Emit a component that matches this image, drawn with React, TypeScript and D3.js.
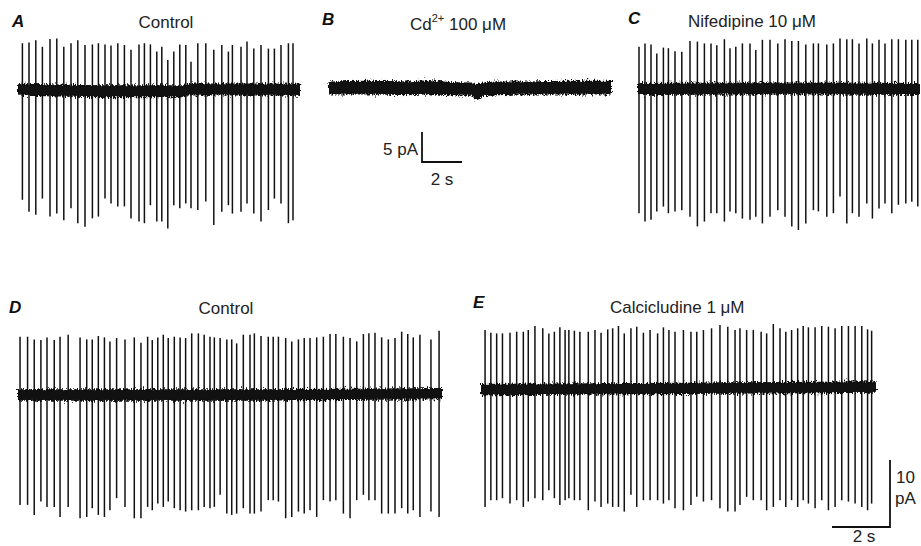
import React from 'react';
import * as d3 from 'd3';

// ---------- Panel A: Control (times in s, currents in pA) ----------
const A_SPIKE_T = [0.22,0.55,0.89,1.22,1.6,1.94,2.29,2.65,2.99,3.35,3.72,4.02,4.35,4.65,4.99,5.32,5.65,6.05,6.32,6.62,6.94,7.19,7.49,7.79,8.09,8.39,8.65,8.99,9.39,9.79,10.19,10.52,10.72,11.15,11.45,11.79,12.15,12.52,12.82,13.15,13.52,13.75];
const A_SPIKE_PEAK = [7.8,7.9,8.3,7.2,8.5,8.6,7.2,7.8,8.3,7.5,7.6,7.8,7.6,7.4,7.8,7.5,6.7,7.6,7.8,7.6,6.4,7.2,5.0,6.4,7.6,7.5,4.7,7.8,7.8,6.7,7.5,6.4,7.5,7.2,8.1,6.9,7.5,6.9,6.9,7.5,7.8,7.8];
const A_SPIKE_TROUGH = [-18.3,-20.3,-20.8,-18.1,-21.1,-20.6,-21.7,-19.7,-22.2,-22.8,-21.4,-21.1,-18.1,-18.9,-19.4,-19.4,-21.4,-21.9,-22.2,-19.2,-21.9,-21.9,-23.1,-19.2,-19.7,-18.9,-19.7,-20.0,-18.6,-22.5,-20.3,-19.2,-20.6,-20.3,-18.9,-20.6,-21.9,-20.0,-18.1,-18.9,-22.2,-21.7];
const A_BASE_T = [0, 1.5, 5, 8.2, 8.6, 14.1];
const A_BASE_PA = [0.1, -0.05, -0.2, -0.2, 0.1, 0.05];

// ---------- Panel B: Cd2+ 100 uM (noise envelope only) ----------
const B_ENV_T = [0, 2, 4, 5, 6, 7.1, 7.4, 7.7, 8.5, 10, 12, 14.1];
const B_ENV_UP = [1.1, 1.2, 1.1, 1.3, 1.0, 0.9, 0.6, 0.9, 1.1, 1.1, 1.2, 1.2];
const B_ENV_LO = [-1.1, -1.1, -1.2, -1.1, -1.2, -1.3, -2.0, -1.4, -1.2, -1.1, -1.1, -1.1];

// ---------- Panel C: Nifedipine 10 uM ----------
const C_SPIKE_T = [0.05,0.35,0.65,0.94,1.27,1.52,1.85,2.19,2.6,2.97,3.32,3.65,3.94,4.32,4.6,4.89,5.22,5.6,5.89,6.22,6.6,6.99,7.35,7.69,8.02,8.39,8.77,9.02,9.44,9.77,10.1,10.44,10.72,11.05,11.44,11.72,12.05,12.35,12.69,13.02,13.39,13.69,13.99];
const C_SPIKE_PEAK = [7.05,7.6,7.4,5.9,6.9,6.8,6.3,6.2,8.0,7.9,7.6,7.6,7.3,8.3,6.8,7.05,7.6,7.6,6.5,8.2,8.2,7.6,8.3,8.0,8.0,7.4,7.6,7.6,7.4,7.6,8.4,8.3,8.3,7.6,8.4,7.6,8.2,7.6,8.3,8.3,8.2,8.2,8.2];
const C_SPIKE_TROUGH = [-20.7,-22.1,-21.8,-20.4,-19.6,-20.7,-20.4,-20.2,-21.3,-22.9,-22.1,-20.7,-20.7,-22.1,-20.4,-20.7,-21.6,-21.8,-21.3,-22.4,-21.3,-20.2,-21.3,-22.9,-23.5,-22.4,-20.2,-20.4,-21.3,-20.7,-17.9,-22.4,-20.7,-21.3,-19.1,-21.6,-19.9,-19.1,-20.7,-19.3,-19.1,-18.8,-19.6];
const C_BASE_T = [0, 5, 9, 14.1];
const C_BASE_PA = [0.0, 0.1, 0.1, 0.0];

// ---------- Panel D: Control ----------
const D_SPIKE_T = [0.07,0.33,0.56,0.79,1.0,1.25,1.45,1.73,2.14,2.37,2.56,2.77,2.98,3.17,3.40,3.69,4.01,4.24,4.47,4.63,4.82,5.01,5.18,5.39,5.59,5.78,5.99,6.22,6.42,6.62,6.77,6.97,7.20,7.37,7.54,7.77,8.0,8.15,8.38,8.63,8.80,8.98,9.23,9.44,9.67,9.87,10.07,10.30,10.53,10.76,10.96,11.22,11.45,11.68,11.91,12.10,12.31,12.54,12.77,13.0,13.23,13.44,13.63,13.86,14.24,14.52];
const D_SPIKE_PEAK = [8.7,8.7,8.3,8.2,8.6,8.2,8.7,9.0,8.6,8.3,8.3,8.8,8.6,8.0,8.5,8.3,8.6,7.8,8.7,8.2,8.6,9.0,8.5,8.7,8.6,8.5,9.2,9.2,9.0,8.7,8.6,8.5,8.3,8.3,7.7,9.0,9.0,9.2,8.8,8.7,8.7,8.7,8.5,8.0,8.3,8.5,8.5,8.6,8.7,9.1,9.1,8.7,8.5,8.0,9.1,9.2,9.3,8.6,8.3,8.5,9.45,9.1,8.6,9.0,8.3,9.6];
const D_SPIKE_TROUGH = [-16.4,-16.4,-17.9,-15.9,-16.7,-16.7,-18.2,-16.7,-18.4,-18.2,-16.9,-17.9,-18.2,-17.2,-15.4,-16.7,-18.4,-18.4,-16.7,-17.2,-16.2,-16.7,-15.9,-16.9,-17.2,-17.4,-17.2,-17.2,-16.7,-16.9,-16.7,-14.9,-17.7,-17.9,-17.7,-16.9,-17.7,-17.7,-17.4,-15.7,-15.7,-15.9,-18.4,-18.2,-17.4,-17.7,-17.2,-18.2,-15.7,-15.9,-15.7,-17.7,-18.4,-15.7,-14.9,-15.7,-15.7,-17.7,-17.7,-17.7,-16.9,-17.7,-17.2,-18.2,-17.4,-18.2];
const D_BASE_T = [0, 7, 14.62];
const D_BASE_PA = [0.0, 0.0, 0.2];

// ---------- Panel E: Calcicludine 1 uM ----------
const E_SPIKE_T = [0.14,0.34,0.54,0.74,1.0,1.23,1.46,1.63,1.86,2.13,2.34,2.53,2.72,2.90,3.03,3.22,3.41,3.70,3.93,4.14,4.37,4.54,4.74,4.94,5.17,5.37,5.60,5.83,6.09,6.29,6.48,6.69,6.98,7.24,7.44,7.67,7.95,8.24,8.51,8.76,8.93,9.16,9.39,9.66,9.85,10.08,10.31,10.51,10.71,10.92,11.11,11.29,11.52,11.75,11.98,12.21,12.44,12.67,12.90,13.13,13.33,13.47];
const E_SPIKE_PEAK = [8.8,8.4,8.3,8.3,8.4,8.55,8.55,8.8,9.4,9.06,8.3,8.55,9.2,8.8,8.8,8.7,8.55,8.55,8.8,8.4,8.9,9.06,9.4,8.3,9.06,9.3,8.4,8.8,8.3,9.2,8.8,8.55,8.8,8.55,8.55,8.8,9.06,9.55,9.3,8.8,9.06,8.8,8.8,8.55,8.3,9.7,9.06,8.55,8.8,9.06,9.4,9.2,9.2,9.4,9.3,9.06,9.4,9.4,9.4,9.4,8.9,8.7];
const E_SPIKE_TROUGH = [-17.6,-16.6,-16.6,-16.3,-17.1,-16.6,-17.6,-16.8,-16.3,-16.6,-15.1,-16.3,-17.3,-16.6,-16.3,-16.6,-16.6,-18.1,-16.8,-17.6,-17.1,-17.6,-17.6,-18.3,-15.8,-17.6,-16.6,-16.6,-16.6,-17.1,-16.6,-17.8,-18.1,-17.3,-16.1,-16.8,-16.6,-17.8,-18.3,-18.3,-17.3,-16.1,-16.6,-16.6,-18.1,-17.6,-16.6,-17.6,-16.6,-17.6,-16.6,-17.1,-17.8,-16.6,-18.1,-17.6,-16.6,-16.8,-17.1,-17.6,-18.1,-17.1];
const E_BASE_T = [0, 7, 13.62];
const E_BASE_PA = [-0.1, 0.1, 0.3];

// noise band half-width (pA)
const TOP_NOISE = 1.0;
const BOT_NOISE = 0.85;

// ---------- layout ----------
const W = 921, H = 546;
const TOP = { pxPerS: 20, pxPerPA: 6 };
const BOT = { pxPerS: 29, pxPerPA: 6.7 };
const FONT = "'Liberation Sans', Arial, Helvetica, sans-serif";
const INK = '#111';

function makeScales(x0: number, base: number, dur: number, row: { pxPerS: number; pxPerPA: number }) {
  const x = d3.scaleLinear().domain([0, dur]).range([x0, x0 + dur * row.pxPerS]);
  const y = d3.scaleLinear().domain([-30, 12]).range([base + 30 * row.pxPerPA, base - 12 * row.pxPerPA]);
  return { x, y };
}

type Spk = { t: number[]; p: number[]; r: number[] };

function Trace({ sc, spikes, baseT, basePA, hw, envT, envUp, envLo }: any) {
  const { x, y } = sc;
  let band: string;
  let core: string;
  const k = 0.82;
  if (envT) {
    const pts = envT.map((t: number, i: number) => ({ t, u: envUp[i], l: envLo[i] }));
    band = d3.area<any>().x(d => x(d.t)).y0(d => y(d.l)).y1(d => y(d.u)).curve(d3.curveMonotoneX)(pts) || '';
    core = d3.area<any>().x(d => x(d.t)).y0(d => y(d.l * k)).y1(d => y(d.u * k)).curve(d3.curveMonotoneX)(pts) || '';
  } else {
    const pts = baseT.map((t: number, i: number) => ({ t, v: basePA[i] }));
    band = d3.area<any>().x(d => x(d.t)).y0(d => y(d.v - hw)).y1(d => y(d.v + hw)).curve(d3.curveMonotoneX)(pts) || '';
    core = d3.area<any>().x(d => x(d.t)).y0(d => y(d.v - hw * k)).y1(d => y(d.v + hw * k)).curve(d3.curveMonotoneX)(pts) || '';
  }
  const s: Spk | undefined = spikes;
  return (
    <g>
      {s && s.t.map((t, i) => (
        <line key={i} x1={x(t)} x2={x(t)} y1={y(s.p[i])} y2={y(s.r[i])} stroke={INK} strokeWidth={1.5} />
      ))}
      <path d={band} fill={INK} filter="url(#noisy)" />
      <path d={core} fill={INK} />
    </g>
  );
}

export default function App() {
  const A = makeScales(18, 90, 14.1, TOP);
  const B = makeScales(329, 88, 14.1, TOP);
  const C = makeScales(638, 89, 14.1, TOP);
  const D = makeScales(18, 395, 14.62, BOT);
  const E = makeScales(481, 389, 13.62, BOT);

  // scale bars
  const bBarH = B.y(0) - B.y(5);
  const bBarW = B.x(2) - B.x(0);
  const bx = 422, by = 162;
  const eBarH = E.y(0) - E.y(10);
  const eBarW = E.x(2) - E.x(0);
  const ex = 890, ey = 527;

  const title = { fontFamily: FONT, fontSize: 17, fill: '#222' } as const;
  const letter = { fontFamily: FONT, fontSize: 17, fontWeight: 700, fontStyle: 'italic', fill: '#111' } as const;

  return (
    <svg width={W} height={H} style={{ position: 'absolute', left: 0, top: 0, background: '#fff' }}>
      <defs>
        <filter id="noisy" x="-2%" y="-80%" width="104%" height="260%">
          <feTurbulence type="fractalNoise" baseFrequency="0.9 0.35" numOctaves={2} seed={4} result="n" />
          <feDisplacementMap in="SourceGraphic" in2="n" scale={8} xChannelSelector="R" yChannelSelector="G" />
        </filter>
      </defs>
      <rect x={0} y={0} width={W} height={H} fill="#fff" />

      <Trace sc={A} spikes={{ t: A_SPIKE_T, p: A_SPIKE_PEAK, r: A_SPIKE_TROUGH }} baseT={A_BASE_T} basePA={A_BASE_PA} hw={TOP_NOISE} />
      <Trace sc={B} envT={B_ENV_T} envUp={B_ENV_UP} envLo={B_ENV_LO} />
      <Trace sc={C} spikes={{ t: C_SPIKE_T, p: C_SPIKE_PEAK, r: C_SPIKE_TROUGH }} baseT={C_BASE_T} basePA={C_BASE_PA} hw={TOP_NOISE} />
      <Trace sc={D} spikes={{ t: D_SPIKE_T, p: D_SPIKE_PEAK, r: D_SPIKE_TROUGH }} baseT={D_BASE_T} basePA={D_BASE_PA} hw={BOT_NOISE} />
      <Trace sc={E} spikes={{ t: E_SPIKE_T, p: E_SPIKE_PEAK, r: E_SPIKE_TROUGH }} baseT={E_BASE_T} basePA={E_BASE_PA} hw={BOT_NOISE} />

      {/* panel letters */}
      <text x={12} y={27} style={letter}>A</text>
      <text x={322} y={25} style={letter}>B</text>
      <text x={628} y={24} style={letter}>C</text>
      <text x={9} y={313} style={letter}>D</text>
      <text x={473} y={308} style={letter}>E</text>

      {/* titles */}
      <text x={166} y={28} textAnchor="middle" style={title}>Control</text>
      <text x={410} y={30} style={title}>
        Cd<tspan fontSize={11} dy={-8}>2+</tspan><tspan dy={8}> 100 μM</tspan>
      </text>
      <text x={688} y={27} style={title}>Nifedipine 10 μM</text>
      <text x={226} y={314} textAnchor="middle" style={title}>Control</text>
      <text x={610} y={313} style={title}>Calcicludine 1 μM</text>

      {/* scale bar B */}
      <path d={`M${bx},${by - bBarH}V${by}H${bx + bBarW}`} fill="none" stroke={INK} strokeWidth={1.8} />
      <text x={bx - 4} y={155} textAnchor="end" style={title}>5 pA</text>
      <text x={bx + bBarW / 2} y={185} textAnchor="middle" style={title}>2 s</text>

      {/* scale bar E */}
      <path d={`M${ex - eBarW},${ey}H${ex}V${ey - eBarH}`} fill="none" stroke={INK} strokeWidth={1.8} />
      <text x={896} y={483} style={title}>10</text>
      <text x={895} y={504} style={title}>pA</text>
      <text x={ex - eBarW / 2 + 3} y={542} textAnchor="middle" style={title}>2 s</text>
    </svg>
  );
}
